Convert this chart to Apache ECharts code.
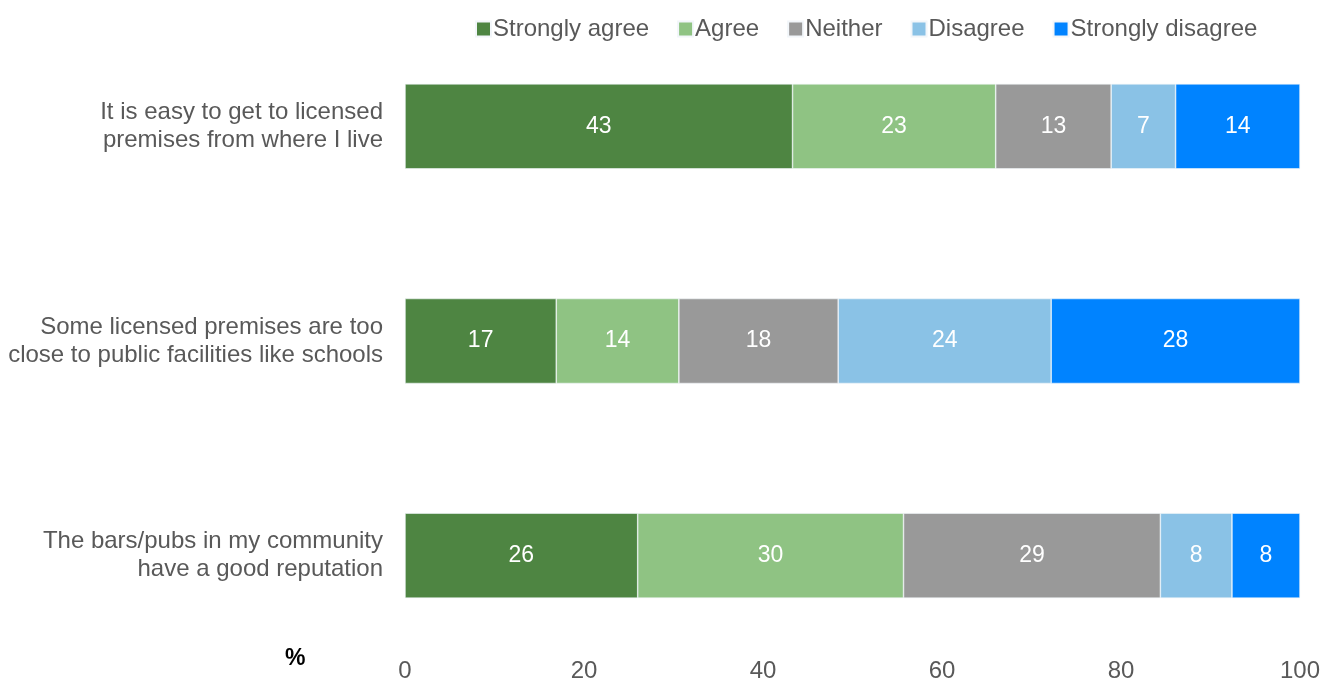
<!DOCTYPE html>
<html>
<head>
<meta charset="utf-8">
<script src="https://cdn.jsdelivr.net/npm/echarts@6/dist/echarts.min.js"></script>
<style>
  html, body { margin: 0; padding: 0; background: #fff; }
  #chart { width: 1325px; height: 700px; }
</style>
</head>
<body>
<div id="chart"></div>
<script>
// statements (top to bottom)
const categories = [
  'It is easy to get to licensed\npremises from where I live',
  'Some licensed premises are too\nclose to public facilities like schools',
  'The bars/pubs in my community\nhave a good reputation'
];

// percentages (labels show rounded values)
const stronglyAgree    = [43.3, 16.9, 26.0];
const agree            = [22.7, 13.7, 29.7];
const neither          = [12.9, 17.8, 28.7];
const disagree         = [7.2, 23.8, 8.0];
const stronglyDisagree = [13.9, 27.8, 7.6];

const xTicks = [0, 20, 40, 60, 80, 100];

const seriesDefs = [
  { name: 'Strongly agree', data: stronglyAgree, color: '#4e8542' },
  { name: 'Agree', data: agree, color: '#8fc383' },
  { name: 'Neither', data: neither, color: '#999999' },
  { name: 'Disagree', data: disagree, color: '#8ac2e6' },
  { name: 'Strongly disagree', data: stronglyDisagree, color: '#0083ff' }
];

const FONT = 'Liberation Sans, Arial, sans-serif';

const chart = echarts.init(document.getElementById('chart'));
chart.setOption({
  backgroundColor: '#fff',
  textStyle: { fontFamily: FONT },
  legend: {
    top: 12,
    left: 470,
    itemWidth: 15,
    itemHeight: 15,
    itemGap: 28,
    icon: 'rect',
    textStyle: { color: '#595959', fontSize: 24, padding: [0, 0, 0, -3] },
    data: seriesDefs.map(s => s.name)
  },
  grid: { left: 405, right: 25, top: 19, bottom: 37, containLabel: false },
  xAxis: {
    type: 'value',
    min: xTicks[0],
    max: xTicks[xTicks.length - 1],
    interval: 20,
    axisLine: { show: false },
    axisTick: { show: false },
    splitLine: { show: false },
    axisLabel: { color: '#595959', fontSize: 24, margin: -4 }
  },
  yAxis: {
    type: 'category',
    inverse: true,
    data: categories,
    axisLine: { show: false },
    axisTick: { show: false },
    axisLabel: { color: '#595959', fontSize: 24, lineHeight: 28, margin: 22, align: 'right' }
  },
  graphic: [{
    type: 'text',
    left: 285,
    top: 647,
    style: { text: '%', fontSize: 23, fontWeight: 'bold', fill: '#000', fontFamily: FONT }
  }],
  series: seriesDefs.map(s => ({
    name: s.name,
    type: 'bar',
    stack: 'total',
    barWidth: 85,
    data: s.data,
    itemStyle: { color: s.color, borderColor: '#f2f6fa', borderWidth: 0.6 },
    label: {
      show: true,
      position: 'inside',
      color: '#fff',
      fontSize: 23,
      formatter: p => Math.round(p.value)
    }
  }))
});
</script>
</body>
</html>
